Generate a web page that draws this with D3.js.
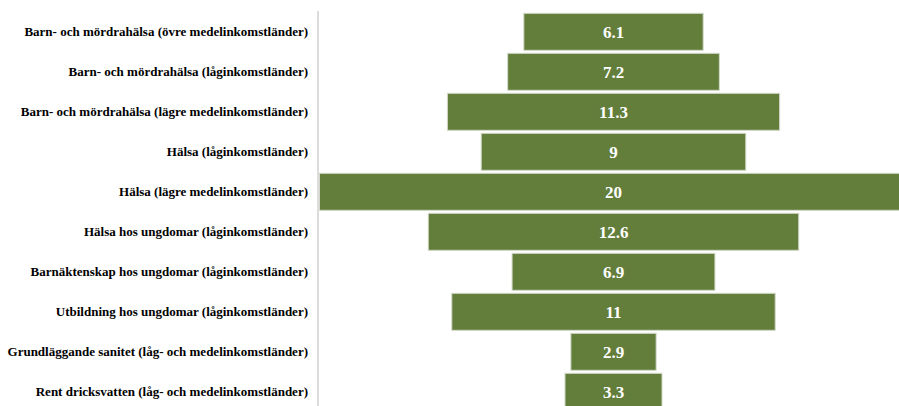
<!DOCTYPE html>
<html><head><meta charset="utf-8">
<script src="https://cdn.jsdelivr.net/npm/d3@7"></script>
<style>html,body{margin:0;padding:0;background:#fff;overflow:hidden}</style>
</head><body>
<svg id="chart" width="899" height="406"></svg>
<script>
const categories = [
  "Barn- och mördrahälsa (övre medelinkomstländer)",
  "Barn- och mördrahälsa (låginkomstländer)",
  "Barn- och mördrahälsa (lägre medelinkomstländer)",
  "Hälsa (låginkomstländer)",
  "Hälsa (lägre medelinkomstländer)",
  "Hälsa hos ungdomar (låginkomstländer)",
  "Barnäktenskap hos ungdomar (låginkomstländer)",
  "Utbildning hos ungdomar (låginkomstländer)",
  "Grundläggande sanitet (låg- och medelinkomstländer)",
  "Rent dricksvatten (låg- och medelinkomstländer)"
];
const values = [6.1, 7.2, 11.3, 9, 20, 12.6, 6.9, 11, 2.9, 3.3];

const svg = d3.select("#chart");
const cx = 613.5;
const w = d3.scaleLinear().domain([0, 20]).range([0, 588]);
const y = d3.scaleBand().domain(categories).range([11.8, 411.8]).paddingInner(0.075).paddingOuter(0.0375);

svg.append("line").attr("x1", 318).attr("x2", 318).attr("y1", 11).attr("y2", 406)
  .attr("stroke", "#dcdcdc").attr("stroke-width", 2);

svg.selectAll("rect.bar").data(values).join("rect").attr("class", "bar")
  .attr("x", d => cx - w(d) / 2)
  .attr("y", (d, i) => y(categories[i]))
  .attr("width", d => w(d))
  .attr("height", y.bandwidth())
  .attr("fill", "#637e3b")
  .attr("stroke", "#d3d9c8").attr("stroke-width", 1);

svg.selectAll("text.val").data(values).join("text").attr("class", "val")
  .attr("x", cx)
  .attr("y", (d, i) => y(categories[i]) + y.bandwidth() / 2)
  .attr("dy", "0.35em")
  .attr("text-anchor", "middle")
  .attr("fill", "#fff")
  .attr("font-family", "'Liberation Serif', 'Times New Roman', serif")
  .attr("font-weight", "bold")
  .attr("font-size", 17)
  .text(d => d);

svg.selectAll("text.cat").data(categories).join("text").attr("class", "cat")
  .attr("x", 308)
  .attr("y", d => y(d) + y.bandwidth() / 2)
  .attr("dy", "0.35em")
  .attr("text-anchor", "end")
  .attr("fill", "#000")
  .attr("font-family", "'Liberation Serif', 'Times New Roman', serif")
  .attr("font-weight", "bold")
  .attr("font-size", 13)
  .text(d => d);
</script>
</body></html>
